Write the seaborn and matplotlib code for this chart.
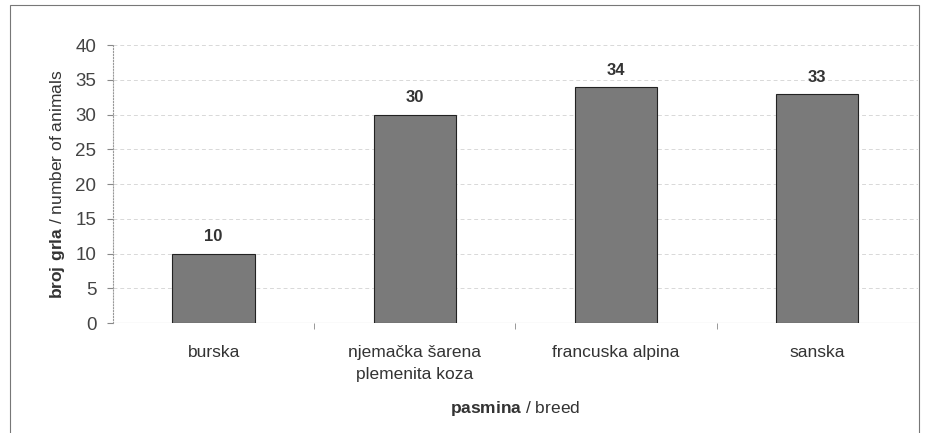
import numpy as np
import pandas as pd
import matplotlib.pyplot as plt
import seaborn as sns
from matplotlib.patches import Rectangle

breeds = ["burska", "njemačka šarena\nplemenita koza", "francuska alpina", "sanska"]
animals = [10, 30, 34, 33]
yticks = [0, 5, 10, 15, 20, 25, 30, 35, 40]

sns.set_style("white")
plt.rcParams['font.family'] = ['Liberation Sans', 'DejaVu Sans']
plt.rcParams['mathtext.fontset'] = 'custom'
plt.rcParams['mathtext.rm'] = 'Liberation Sans'
plt.rcParams['mathtext.bf'] = 'Liberation Sans:bold'

df = pd.DataFrame({"breed": breeds, "n": animals})

fig = plt.figure(figsize=(9.27, 4.33), dpi=100)
ax = fig.add_axes([0.122, 0.254, 0.868, 0.642])

sns.barplot(data=df, x="breed", y="n", color="#7a7a7a", saturation=1,
            edgecolor="#222222", linewidth=0.8, width=0.41, ax=ax)

# value labels above the bars
for i, v in enumerate(animals):
    ax.text(i, v + 1.3, str(v), ha="center", va="bottom", fontsize=12,
            fontweight="bold", color="#333333")

ax.set_ylim(0, 40)
ax.set_yticks(yticks)
ax.set_xlim(-0.5, 3.5)
ax.yaxis.grid(True, color="#d8d8d8", linestyle=(0, (4, 3)), linewidth=0.7)
ax.set_axisbelow(True)
for s in ["top", "right", "bottom"]:
    ax.spines[s].set_visible(False)
ax.spines["left"].set_color("#999999")
ax.spines["left"].set_linestyle(":")
ax.axhline(0, color="#aaaaaa", linewidth=0.8, zorder=0)

# tick marks between categories
ax.set_xticks([0.5, 1.5, 2.5], minor=True)
ax.tick_params(axis="x", which="minor", length=4, color="#888888", direction="out", bottom=True)
ax.tick_params(axis="x", which="major", length=0, labelsize=12.5, labelcolor="#333333", pad=16)
ax.tick_params(axis="y", length=4, color="#888888", direction="out", left=True,
               labelsize=13.5, labelcolor="#444444", pad=8)
for lbl in ax.get_xticklabels():
    lbl.set_linespacing(1.55)
    lbl.set_verticalalignment("top")

ax.set_xlabel(r"$\mathbf{pasmina}$ / breed", fontsize=12.5, color="#333333", labelpad=12)
ax.set_ylabel(r"$\mathbf{broj\ grla}$ / number of animals", fontsize=12.5, color="#333333", labelpad=6)

# outer frame
fig.patches.append(Rectangle((0.011, -0.02), 0.98, 1.008, transform=fig.transFigure,
                             fill=False, edgecolor="#777777", linewidth=0.8))

fig.savefig("out.png", dpi=100)
